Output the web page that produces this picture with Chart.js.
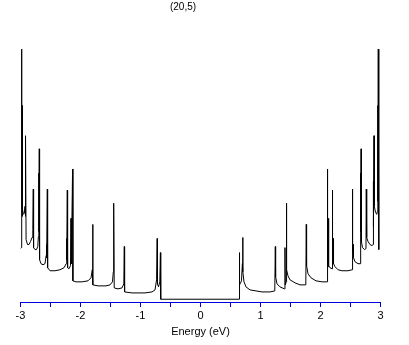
<!DOCTYPE html>
<html>
<head>
  <meta charset="utf-8">
  <title>DOS (20,5)</title>
  <script src="https://cdn.jsdelivr.net/npm/chart.js"></script>
  <style>
    body { margin: 0; background: #fff; }
  </style>
</head>
<body>
  <canvas id="chart" width="409" height="345"></canvas>

  <script>
    // density of states, arbitrary units
    const energy = [
      -3.000, -2.987, -2.983, -2.980, -2.977, -2.973, -2.970, -2.965, -2.953, -2.937,
      -2.925, -2.920, -2.917, -2.912, -2.907, -2.883, -2.858, -2.833, -2.808, -2.795,
      -2.787, -2.782, -2.758, -2.733, -2.712, -2.702, -2.697, -2.692, -2.687, -2.682,
      -2.658, -2.625, -2.592, -2.572, -2.567, -2.562, -2.553, -2.548, -2.508, -2.425,
      -2.342, -2.275, -2.238, -2.232, -2.227, -2.220, -2.215, -2.192, -2.167, -2.158,
      -2.153, -2.132, -2.127, -2.075, -1.975, -1.875, -1.825, -1.803, -1.797, -1.792,
      -1.708, -1.575, -1.508, -1.467, -1.453, -1.450, -1.447, -1.443, -1.438, -1.375,
      -1.308, -1.278, -1.270, -1.265, -1.142, -0.925, -0.808, -0.758, -0.732, -0.722,
      -0.717, -0.700, -0.678, -0.668, -0.663,
      0.645, 0.648, 0.653, 0.667, 0.683, 0.698, 0.703, 0.708, 0.725, 0.758,
      0.825, 0.925, 1.025, 1.158, 1.238, 1.247, 1.252, 1.275, 1.325, 1.400,
      1.408, 1.413, 1.427, 1.432, 1.437, 1.458, 1.492, 1.575, 1.658, 1.755,
      1.763, 1.768, 1.792, 1.842, 1.925, 2.025, 2.110, 2.115, 2.120, 2.128,
      2.133, 2.138, 2.158, 2.193, 2.198, 2.203, 2.212, 2.217, 2.242, 2.292,
      2.358, 2.458, 2.527, 2.532, 2.537, 2.545, 2.550, 2.575, 2.625, 2.662,
      2.667, 2.672, 2.677, 2.682, 2.700, 2.733, 2.758, 2.763, 2.770, 2.792,
      2.825, 2.858, 2.877, 2.880, 2.885, 2.892, 2.897, 2.917, 2.938, 2.948,
      2.953, 2.958, 2.963, 2.968, 2.975
    ];
    const dos = [
      2.12, 2.16, 4.00, 10.04, 4.00, 3.40, 7.80, 3.68, 3.48, 3.52,
      3.80, 5.52, 3.40, 6.60, 2.48, 2.28, 2.28, 2.40, 2.56, 2.88,
      4.48, 2.16, 2.08, 2.08, 2.20, 2.60, 5.12, 2.80, 6.08, 1.68,
      1.52, 1.48, 1.52, 1.84, 2.28, 1.76, 4.48, 1.36, 1.24, 1.24,
      1.28, 1.36, 1.52, 2.52, 1.68, 4.44, 1.36, 1.32, 1.44, 3.32,
      1.52, 5.28, 0.84, 0.80, 0.80, 0.84, 0.96, 1.28, 3.08, 0.68,
      0.64, 0.64, 0.68, 0.80, 1.20, 2.16, 1.20, 3.92, 0.56, 0.52,
      0.56, 0.72, 2.20, 0.40, 0.36, 0.36, 0.40, 0.48, 0.88, 2.52,
      0.72, 0.60, 0.80, 1.96, 0.11,
      0.11, 1.96, 0.68, 0.76, 0.84, 1.52, 2.56, 1.20, 0.80, 0.60,
      0.48, 0.44, 0.40, 0.40, 0.44, 2.20, 1.00, 0.72, 0.60, 0.52,
      2.16, 0.68, 0.80, 3.92, 1.28, 1.04, 0.88, 0.76, 0.68, 0.68,
      3.08, 1.44, 1.12, 0.96, 0.84, 0.80, 0.80, 5.28, 1.52, 1.40,
      3.32, 1.44, 1.36, 1.32, 4.44, 1.68, 2.52, 1.52, 1.40, 1.28,
      1.24, 1.24, 1.28, 4.48, 2.00, 2.28, 1.76, 1.60, 1.52, 1.52,
      5.12, 2.80, 6.08, 2.40, 2.16, 2.08, 2.12, 4.48, 2.56, 2.40,
      2.28, 2.24, 2.28, 4.80, 3.00, 6.60, 3.80, 3.56, 3.48, 3.60,
      7.80, 4.00, 10.04, 3.20, 2.08
    ];
    const chartTitle = '(20,5)';
    const xTitle = 'Energy (eV)';

    const points = energy.map((e, i) => ({ x: e, y: dos[i] }));

    // title sits left of centre in the original, so draw it by hand
    const topTitle = {
      id: 'topTitle',
      afterDraw(chart) {
        const ctx = chart.ctx;
        ctx.save();
        ctx.font = '10px "Liberation Sans"';
        ctx.fillStyle = '#000';
        ctx.textAlign = 'center';
        ctx.textBaseline = 'middle';
        ctx.fillText(chartTitle, 183, 7);
        ctx.restore();
      }
    };

    new Chart(document.getElementById('chart'), {
      type: 'line',
      data: {
        datasets: [{
          data: points,
          borderColor: '#000',
          borderWidth: 1,
          pointRadius: 0,
          tension: 0,
          fill: false
        }]
      },
      options: {
        responsive: false,
        animation: false,
        layout: { padding: { left: 20.5, right: 28.5, top: 40, bottom: 6.6 } },
        plugins: {
          legend: { display: false },
          tooltip: { enabled: false }
        },
        scales: {
          x: {
            type: 'linear',
            min: -3,
            max: 3,
            border: { color: '#0000dd', width: 1 },
            grid: {
              drawOnChartArea: false,
              drawTicks: true,
              tickLength: 5,
              color: '#0000dd'
            },
            ticks: {
              stepSize: 0.5,
              autoSkip: false,
              maxRotation: 0,
              padding: 2,
              color: '#000',
              font: { family: 'Liberation Sans', size: 11 },
              callback: v => Number.isInteger(v) ? v : ''
            },
            title: {
              display: true,
              text: xTitle,
              color: '#000',
              font: { family: 'Liberation Sans', size: 11 },
              padding: { top: 1, bottom: 0 }
            }
          },
          y: {
            display: false,
            min: 0,
            max: 10.4
          }
        }
      },
      plugins: [topTitle]
    });
  </script>
</body>
</html>
